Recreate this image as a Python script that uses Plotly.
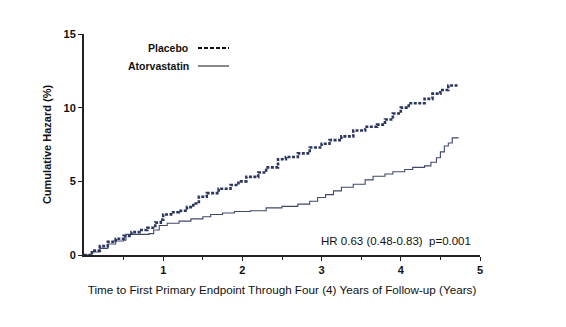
import plotly.graph_objects as go

placebo_t = [0, 0.1, 0.2, 0.3, 0.4, 0.5, 0.6, 0.7, 0.8, 0.9, 0.97, 1.0, 1.1, 1.2, 1.3, 1.38, 1.45, 1.55, 1.7, 1.85,
             1.95, 2.05, 2.2, 2.3, 2.45, 2.55, 2.7, 2.85, 3.0, 3.1, 3.25, 3.4, 3.55, 3.7, 3.8, 3.9, 4.0, 4.1, 4.2,
             4.3, 4.4, 4.5, 4.6, 4.72]
placebo_h = [0, 0.3, 0.6, 0.9, 1.1, 1.3, 1.55, 1.7, 1.85, 2.2, 2.4, 2.75, 2.9, 3.0, 3.25, 3.5, 3.95, 4.2, 4.5, 4.75,
             5.0, 5.3, 5.6, 5.95, 6.5, 6.65, 6.9, 7.3, 7.55, 7.8, 8.05, 8.45, 8.7, 8.85, 9.2, 9.6, 10.0, 10.3, 10.3,
             10.6, 10.95, 11.2, 11.5, 11.55]

atorva_t = [0, 0.1, 0.2, 0.3, 0.4, 0.5, 0.53, 0.7, 0.82, 0.88, 0.95, 1.05, 1.2, 1.35, 1.5, 1.6, 1.75, 1.9, 2.1,
            2.3, 2.5, 2.7, 2.85, 2.95, 3.05, 3.15, 3.25, 3.4, 3.55, 3.65, 3.8, 3.9, 4.05, 4.15, 4.3, 4.38, 4.45,
            4.5, 4.55, 4.6, 4.65, 4.73]
atorva_h = [0, 0.2, 0.45, 0.75, 0.95, 1.0, 1.4, 1.4, 1.45, 1.7, 2.0, 2.15, 2.3, 2.45, 2.6, 2.75, 2.85, 2.95, 3.0,
            3.2, 3.3, 3.45, 3.65, 3.9, 4.1, 4.35, 4.6, 4.8, 5.1, 5.35, 5.5, 5.65, 5.8, 5.95, 6.05, 6.3, 6.6,
            7.0, 7.4, 7.6, 7.95, 7.95]

x_ticks = [1, 2, 3, 4, 5]
y_ticks = [0, 5, 10, 15]
series_names = ["Placebo", "Atorvastatin"]
hr_text = "HR 0.63 (0.48-0.83)  p=0.001"
x_title = "Time to First Primary Endpoint Through Four (4) Years of Follow-up (Years)"
y_title = "Cumulative Hazard (%)"

navy = "#2b3763"
thin = "#3d4872"
font = "Liberation Sans, Arial, sans-serif"

fig = go.Figure()
fig.add_trace(go.Scatter(x=atorva_t, y=atorva_h, mode="lines", line_shape="hv",
                         line=dict(color=thin, width=1.1), name=series_names[1], showlegend=False))
fig.add_trace(go.Scatter(x=placebo_t, y=placebo_h, mode="lines", line_shape="hv",
                         line=dict(color=navy, width=2.6, dash="3px,1.5px"), name=series_names[0], showlegend=False))

fig.update_layout(
    width=566, height=327,
    margin=dict(l=84, r=86, t=34, b=72),
    paper_bgcolor="white", plot_bgcolor="white",
    font=dict(family=font, color="#111"),
    xaxis=dict(range=[0, 5], showline=True, linecolor="#222", linewidth=2, showgrid=False, zeroline=False,
               tickmode="array", tickvals=x_ticks, ticks="outside", ticklen=4, tickcolor="#222", tickwidth=1,
               tickfont=dict(size=11, family=font, weight="bold"),
               minor=dict(tickvals=[0.5, 1.5, 2.5, 3.5, 4.5], ticks="outside", ticklen=3, tickcolor="#222"),
               title=dict(text=x_title, font=dict(size=11.7, family=font), standoff=11)),
    yaxis=dict(range=[0, 15], showline=True, linecolor="#222", linewidth=2, showgrid=False, zeroline=False,
               tickmode="array", tickvals=y_ticks, ticks="outside", ticklen=4, tickcolor="#222", tickwidth=1,
               tickfont=dict(size=11, family=font, weight="bold"),
               title=dict(text=y_title, font=dict(size=11, family=font, weight="bold"), standoff=10)),
)

# legend drawn manually (text left of sample line)
fig.add_annotation(xref="paper", yref="paper", x=(190 - 84) / 396, y=(255 - 48) / 221, xanchor="right",
                   yanchor="middle", text="<b>" + series_names[0] + "</b>", showarrow=False,
                   font=dict(size=10.5, family=font, color="#111"))
fig.add_annotation(xref="paper", yref="paper", x=(191 - 84) / 396, y=(255 - 66) / 221, xanchor="right",
                   yanchor="middle", text="<b>" + series_names[1] + "</b>", showarrow=False,
                   font=dict(size=10.5, family=font, color="#111"))
fig.add_shape(type="line", xref="paper", yref="paper", x0=(198 - 84) / 396, x1=(229 - 84) / 396,
              y0=(255 - 48) / 221, y1=(255 - 48) / 221, line=dict(color="#111", width=2, dash="4px,2px"))
fig.add_shape(type="line", xref="paper", yref="paper", x0=(198 - 84) / 396, x1=(229 - 84) / 396,
              y0=(255 - 66) / 221, y1=(255 - 66) / 221, line=dict(color="#111", width=1))

fig.add_annotation(xref="paper", yref="paper", x=(473 - 84) / 396, y=(255 - 241) / 221, xanchor="right",
                   yanchor="middle", text=hr_text, showarrow=False, font=dict(size=11.5, family=font, color="#111"))

fig.write_html("out.html")
